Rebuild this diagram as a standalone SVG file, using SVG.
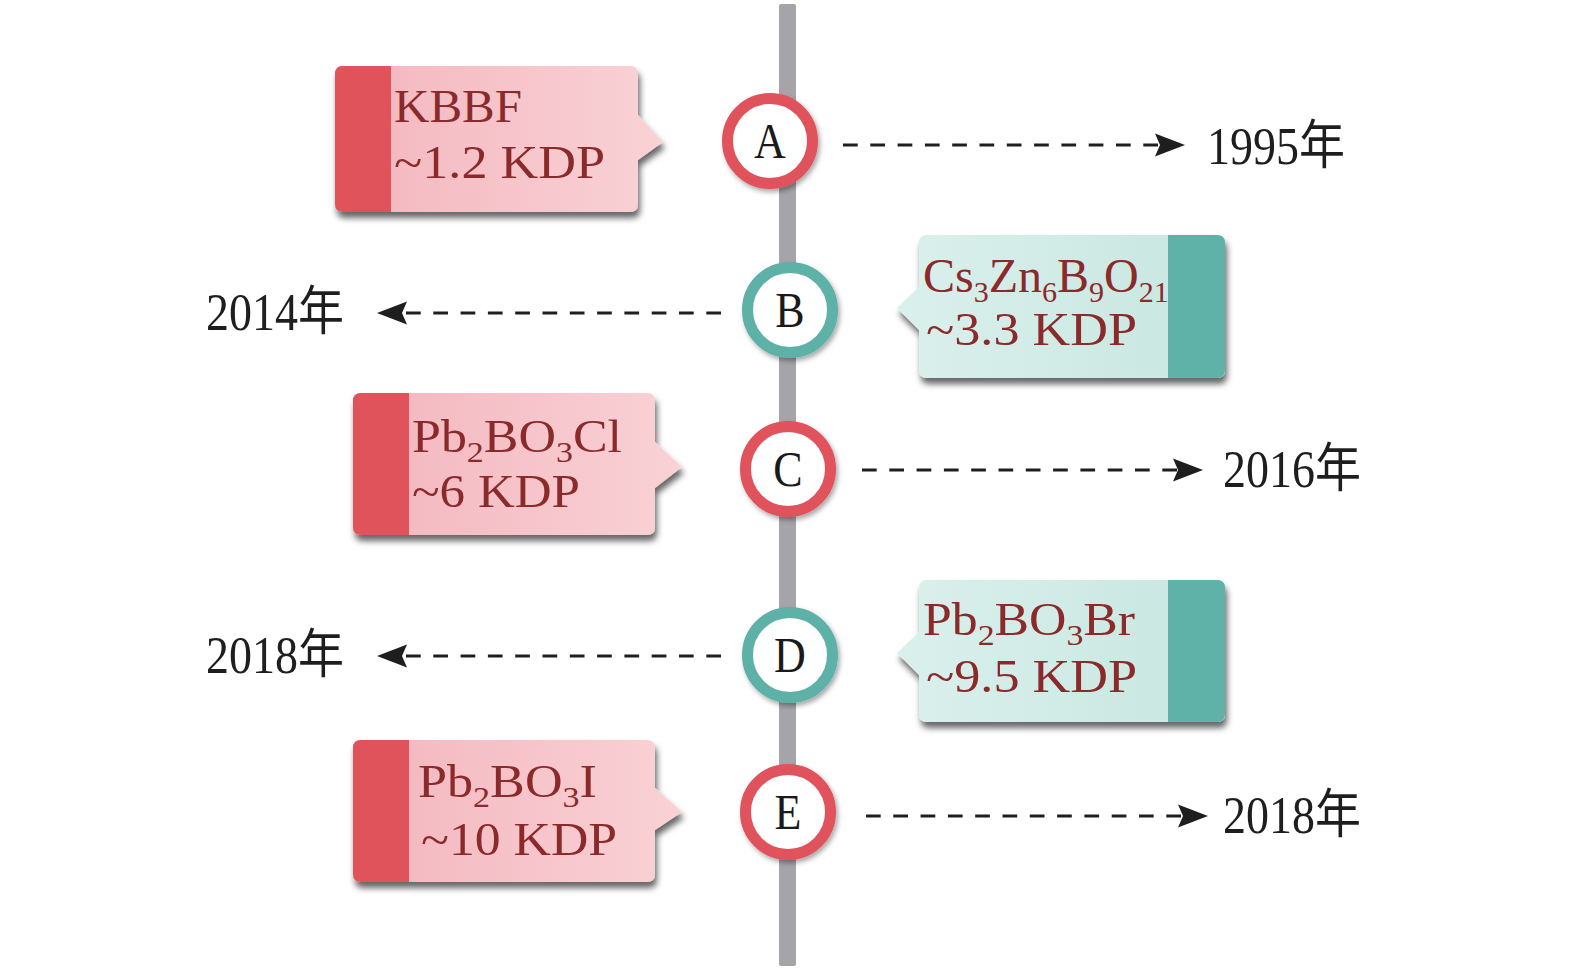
<svg xmlns="http://www.w3.org/2000/svg" width="1575" height="971" viewBox="0 0 1575 971">
<style>
.bt{font-family:"Liberation Serif","DejaVu Serif",serif;font-size:46px;fill:#8A2A2A}
.sub{font-size:30px}
.yr{font-family:"Liberation Serif","Noto Sans CJK SC",serif;font-size:46px;fill:#1E1E1E}
.lt{font-family:"Liberation Serif","DejaVu Serif",serif;font-size:44px;fill:#1A1A1A;text-anchor:middle}
.dash{fill:none;stroke:#1E1E1E;stroke-width:3;stroke-dasharray:14.7 12.6}
.rr{fill:#fff;stroke:#E1535B;stroke-width:11}
.rt{fill:#fff;stroke:#5DB1A7;stroke-width:11}
.pk{fill:url(#gpk)}
.tl{fill:url(#gtl)}
.spk{fill:#E1535B}
.stl{fill:#5FB2A8}
</style>
<defs>
<linearGradient id="gpk" x1="0" y1="0" x2="1" y2="0">
<stop offset="0" stop-color="#F3B5BD"/>
<stop offset="1" stop-color="#F9D2D6"/>
</linearGradient>
<linearGradient id="gtl" x1="0" y1="0" x2="1" y2="0">
<stop offset="0" stop-color="#DAF0EC"/>
<stop offset="1" stop-color="#C8E6E0"/>
</linearGradient>
<filter id="sh" x="-10%" y="-10%" width="125%" height="135%">
<feDropShadow dx="2" dy="6" stdDeviation="3" flood-color="#000" flood-opacity="0.6"/>
</filter>
<filter id="csh" x="-20%" y="-20%" width="150%" height="150%">
<feDropShadow dx="2" dy="3" stdDeviation="2.5" flood-color="#000" flood-opacity="0.35"/>
</filter>
<marker id="ah" viewBox="-32 -13 34 26" refX="-22" refY="0" markerWidth="34" markerHeight="26" markerUnits="userSpaceOnUse" orient="auto">
<path d="M0,0 L-30,-11.5 L-25,0 L-30,11.5 Z" fill="#1E1E1E"/>
</marker>
</defs>

<rect id="axis" x="779" y="4" width="17" height="962" rx="2" fill="#A4A4A9"/>

<g id="connectors">
<path class="dash" d="M843,145 H1163" marker-end="url(#ah)"/>
<path class="dash" d="M721,313 H399" marker-end="url(#ah)"/>
<path class="dash" d="M862,470 H1181" marker-end="url(#ah)"/>
<path class="dash" d="M721,656 H399" marker-end="url(#ah)"/>
<path class="dash" d="M866,816 H1186" marker-end="url(#ah)"/>
</g>

<g id="nodeA">
<path class="pk" filter="url(#sh)" d="M343,66 H630 Q638,66 638,74 V115 L663,142 L638,160 V204 Q638,212 630,212 H343 Q335,212 335,204 V74 Q335,66 343,66 Z"/>
<path class="spk" d="M343,66 H391 V212 H343 Q335,212 335,204 V74 Q335,66 343,66 Z"/>
<text class="bt" x="394" y="122" textLength="128" lengthAdjust="spacingAndGlyphs">KBBF</text>
<text class="bt" x="394" y="178" textLength="211" lengthAdjust="spacingAndGlyphs">~1.2 KDP</text>
<circle class="rr" filter="url(#csh)" cx="770" cy="141" r="42.5"/>
<text class="lt" transform="translate(770,158) scale(1,1.15)">A</text>
<text class="yr" transform="translate(1207,164) scale(1,1.15)">1995年</text>
</g>

<g id="nodeB">
<path class="tl" filter="url(#sh)" d="M927,235 H1217 Q1225,235 1225,243 V370 Q1225,378 1217,378 H927 Q919,378 919,370 V330 L897,308 L919,287 V243 Q919,235 927,235 Z"/>
<path class="stl" d="M1168,235 H1217 Q1225,235 1225,243 V370 Q1225,378 1217,378 H1168 Z"/>
<text class="bt" x="923" y="292" style="font-size:48px">Cs<tspan class="sub" dy="10">3</tspan><tspan dy="-10">Zn</tspan><tspan class="sub" dy="10">6</tspan><tspan dy="-10">B</tspan><tspan class="sub" dy="10">9</tspan><tspan dy="-10">O</tspan><tspan class="sub" dy="10">21</tspan></text>
<text class="bt" x="926" y="345" textLength="211" lengthAdjust="spacingAndGlyphs">~3.3 KDP</text>
<circle class="rt" filter="url(#csh)" cx="790" cy="310" r="42.5"/>
<text class="lt" transform="translate(790,327) scale(1,1.15)">B</text>
<text class="yr" transform="translate(206,330) scale(1,1.15)">2014年</text>
</g>

<g id="nodeC">
<path class="pk" filter="url(#sh)" d="M361,393 H647 Q655,393 655,401 V442 L682,467 L655,488 V527 Q655,535 647,535 H361 Q353,535 353,527 V401 Q353,393 361,393 Z"/>
<path class="spk" d="M361,393 H409 V535 H361 Q353,535 353,527 V401 Q353,393 361,393 Z"/>
<text class="bt" x="412" y="452" textLength="210" lengthAdjust="spacingAndGlyphs">Pb<tspan class="sub" dy="10">2</tspan><tspan dy="-10">BO</tspan><tspan class="sub" dy="10">3</tspan><tspan dy="-10">Cl</tspan></text>
<text class="bt" x="412" y="507" textLength="168" lengthAdjust="spacingAndGlyphs">~6 KDP</text>
<circle class="rr" filter="url(#csh)" cx="788" cy="469" r="42.5"/>
<text class="lt" transform="translate(788,486) scale(1,1.15)">C</text>
<text class="yr" transform="translate(1223,487) scale(1,1.15)">2016年</text>
</g>

<g id="nodeD">
<path class="tl" filter="url(#sh)" d="M927,580 H1217 Q1225,580 1225,588 V714 Q1225,722 1217,722 H927 Q919,722 919,714 V675 L897,653 L919,632 V588 Q919,580 927,580 Z"/>
<path class="stl" d="M1168,580 H1217 Q1225,580 1225,588 V714 Q1225,722 1217,722 H1168 Z"/>
<text class="bt" x="923" y="635" textLength="212" lengthAdjust="spacingAndGlyphs">Pb<tspan class="sub" dy="10">2</tspan><tspan dy="-10">BO</tspan><tspan class="sub" dy="10">3</tspan><tspan dy="-10">Br</tspan></text>
<text class="bt" x="926" y="692" textLength="211" lengthAdjust="spacingAndGlyphs">~9.5 KDP</text>
<circle class="rt" filter="url(#csh)" cx="790" cy="655" r="42.5"/>
<text class="lt" transform="translate(790,672) scale(1,1.15)">D</text>
<text class="yr" transform="translate(206,673) scale(1,1.15)">2018年</text>
</g>

<g id="nodeE">
<path class="pk" filter="url(#sh)" d="M361,740 H647 Q655,740 655,748 V788 L682,812 L655,830 V874 Q655,882 647,882 H361 Q353,882 353,874 V748 Q353,740 361,740 Z"/>
<path class="spk" d="M361,740 H409 V882 H361 Q353,882 353,874 V748 Q353,740 361,740 Z"/>
<text class="bt" x="418" y="797" textLength="179" lengthAdjust="spacingAndGlyphs">Pb<tspan class="sub" dy="10">2</tspan><tspan dy="-10">BO</tspan><tspan class="sub" dy="10">3</tspan><tspan dy="-10">I</tspan></text>
<text class="bt" x="421" y="855" textLength="196" lengthAdjust="spacingAndGlyphs">~10 KDP</text>
<circle class="rr" filter="url(#csh)" cx="788" cy="812" r="42.5"/>
<text class="lt" transform="translate(788,829) scale(1,1.15)">E</text>
<text class="yr" transform="translate(1223,833) scale(1,1.15)">2018年</text>
</g>
</svg>
